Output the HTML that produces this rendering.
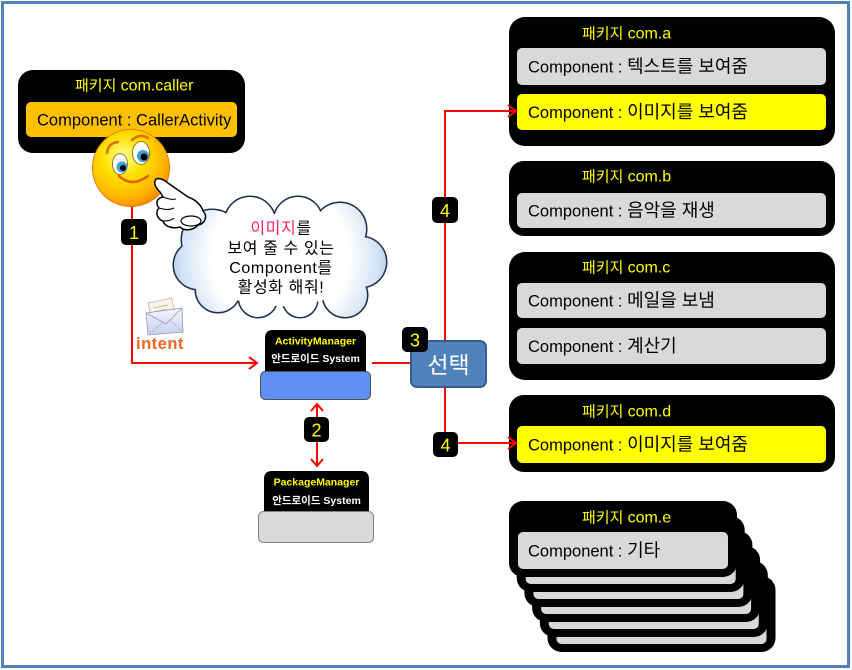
<!DOCTYPE html>
<html><head><meta charset="utf-8"><style>
html,body{margin:0;padding:0;background:#fff;}
svg{display:block;}
text{font-family:"Liberation Sans","Noto Sans CJK KR",sans-serif;}
</style></head><body>
<svg width="852" height="670" viewBox="0 0 852 670" xmlns="http://www.w3.org/2000/svg">
<defs>
<radialGradient id="sm" cx="0.4" cy="0.35" r="0.7">
<stop offset="0" stop-color="#FFFF90"/><stop offset="0.4" stop-color="#FFE000"/><stop offset="0.8" stop-color="#FFB000"/><stop offset="1" stop-color="#F08000"/>
</radialGradient>
<radialGradient id="cl" gradientUnits="userSpaceOnUse" cx="280" cy="257" r="115">
<stop offset="0" stop-color="#FFFFFF"/><stop offset="0.6" stop-color="#FFFFFF"/><stop offset="0.85" stop-color="#D5E3F5"/><stop offset="1" stop-color="#A9C2E6"/>
</radialGradient>
<linearGradient id="env" x1="0" y1="0" x2="0" y2="1">
<stop offset="0" stop-color="#F4F6FC"/><stop offset="1" stop-color="#C8D0EE"/>
</linearGradient>
</defs>
<rect x="0" y="0" width="852" height="670" fill="#fff"/>
<rect x="2.5" y="2.5" width="846" height="664" fill="none" stroke="#4F81BD" stroke-width="3"/>

<!-- red connectors (lines) -->
<g stroke="#FF0000" stroke-width="2" fill="none">
<polyline points="132,206 132,363 256,363"/>
<line x1="372" y1="363" x2="411" y2="363"/>
<polyline points="516,111 445,111 445,443 516,443"/>
<line x1="317" y1="404" x2="317" y2="466"/>
</g>

<!-- caller package -->
<rect x="18" y="70" width="227" height="83" rx="15" fill="#000"/>
<text x="75" y="90.5" fill="#FFFF00" font-size="15">패키지 <tspan font-size="16">com.caller</tspan></text>
<rect x="26" y="102" width="211" height="35" rx="5" fill="#FFC000"/>
<text x="37" y="125.5" fill="#000" font-size="16.5">Component : CallerActivity</text>

<!-- com.a -->
<rect x="509" y="17" width="326" height="129" rx="16" fill="#000"/>
<text x="582" y="38.5" fill="#FFFF00" font-size="15">패키지 <tspan font-size="16">com.a</tspan></text>
<rect x="517" y="48" width="309" height="37" rx="5" fill="#D9D9D9"/>
<text x="528" y="72.5" fill="#000" font-size="16.5">Component : <tspan font-size="18">텍스트를 보여줌</tspan></text>
<rect x="517" y="94" width="309" height="36" rx="5" fill="#FFFF00"/>
<text x="528" y="118" fill="#000" font-size="16.5">Component : <tspan font-size="18">이미지를 보여줌</tspan></text>

<!-- com.b -->
<rect x="509" y="161" width="326" height="75" rx="15" fill="#000"/>
<text x="582" y="181.5" fill="#FFFF00" font-size="15">패키지 <tspan font-size="16">com.b</tspan></text>
<rect x="517" y="193" width="309" height="35" rx="5" fill="#D9D9D9"/>
<text x="528" y="216.5" fill="#000" font-size="16.5">Component : <tspan font-size="18">음악을 재생</tspan></text>

<!-- com.c -->
<rect x="509" y="252" width="326" height="128" rx="16" fill="#000"/>
<text x="582" y="272.5" fill="#FFFF00" font-size="15">패키지 <tspan font-size="16">com.c</tspan></text>
<rect x="517" y="283" width="309" height="35" rx="5" fill="#D9D9D9"/>
<text x="528" y="306.5" fill="#000" font-size="16.5">Component : <tspan font-size="18">메일을 보냄</tspan></text>
<rect x="517" y="328" width="309" height="36" rx="5" fill="#D9D9D9"/>
<text x="528" y="352" fill="#000" font-size="16.5">Component : <tspan font-size="18">계산기</tspan></text>

<!-- com.d -->
<rect x="509" y="395" width="326" height="77" rx="15" fill="#000"/>
<text x="582" y="416.5" fill="#FFFF00" font-size="15">패키지 <tspan font-size="16">com.d</tspan></text>
<rect x="517" y="426" width="309" height="37" rx="5" fill="#FFFF00"/>
<text x="528" y="450.5" fill="#000" font-size="16.5">Component : <tspan font-size="18">이미지를 보여줌</tspan></text>

<!-- com.e stack -->
<g>
<rect x="547.5" y="576" width="228" height="76" rx="14" fill="#000"/><rect x="556.5" y="607" width="210" height="37" rx="5" fill="#D9D9D9"/>
<rect x="539.8" y="561" width="228" height="76" rx="14" fill="#000"/><rect x="548.8" y="592" width="210" height="37" rx="5" fill="#D9D9D9"/>
<rect x="532.1" y="546" width="228" height="76" rx="14" fill="#000"/><rect x="541.1" y="577" width="210" height="37" rx="5" fill="#D9D9D9"/>
<rect x="524.4" y="531" width="228" height="76" rx="14" fill="#000"/><rect x="533.4" y="562" width="210" height="37" rx="5" fill="#D9D9D9"/>
<rect x="516.7" y="516" width="228" height="76" rx="14" fill="#000"/><rect x="525.7" y="547" width="210" height="37" rx="5" fill="#D9D9D9"/>
<rect x="509" y="501" width="228" height="76" rx="14" fill="#000"/><rect x="518" y="532" width="210" height="37" rx="5" fill="#D9D9D9"/>
</g>
<text x="582" y="522.5" fill="#FFFF00" font-size="15">패키지 <tspan font-size="16">com.e</tspan></text>
<text x="528" y="556.5" fill="#000" font-size="16.5">Component : <tspan font-size="18">기타</tspan></text>

<!-- ActivityManager -->
<path d="M265,372 L265,338 Q265,330 273,330 L358,330 Q366,330 366,338 L366,372 Z" fill="#000"/>
<rect x="260.5" y="371.5" width="110" height="28" rx="5" fill="#5F8FF0" stroke="#505050" stroke-width="1"/>
<text x="315.5" y="344.5" fill="#FFFF00" font-size="10.5" font-weight="bold" text-anchor="middle">ActivityManager</text>
<text x="315.5" y="362" fill="#FFFFFF" font-size="10.5" font-weight="bold" text-anchor="middle">안드로이드 System</text>

<!-- PackageManager -->
<path d="M264,512 L264,479 Q264,471 272,471 L361,471 Q369,471 369,479 L369,512 Z" fill="#000"/>
<rect x="258.5" y="511.5" width="115" height="31" rx="5" fill="#D9D9D9" stroke="#808080" stroke-width="1"/>
<text x="316.5" y="485.5" fill="#FFFF00" font-size="10.5" font-weight="bold" text-anchor="middle">PackageManager</text>
<text x="316.5" y="504" fill="#FFFFFF" font-size="10.5" font-weight="bold" text-anchor="middle">안드로이드 System</text>

<!-- arrowheads on top -->
<g stroke="#FF0000" stroke-width="2" fill="none">
<polyline points="249,357 257,363 249,369"/>
<line x1="505" y1="111" x2="516" y2="111"/>
<polyline points="508,105 516,111 508,117"/>
<line x1="505" y1="443" x2="516" y2="443"/>
<polyline points="508,437 516,443 508,449"/>
<polyline points="311,411 317,404 323,411"/>
<polyline points="311,459 317,466 323,459"/>
</g>

<!-- 선택 -->
<rect x="411" y="341" width="75" height="46" rx="6" fill="#4F81BD" stroke="#385D8A" stroke-width="2"/>
<text x="448.5" y="373" fill="#FFFFFF" font-size="23" text-anchor="middle">선택</text>

<!-- number labels -->
<g font-size="18" fill="#FFFF00" text-anchor="middle">
<rect x="121" y="219" width="26" height="26" rx="5" fill="#000"/><text x="134" y="239">1</text>
<rect x="304" y="417" width="25" height="25" rx="5" fill="#000"/><text x="316.5" y="436.5">2</text>
<rect x="402" y="327" width="26" height="25" rx="5" fill="#000"/><text x="415" y="346.5">3</text>
<rect x="432" y="197" width="26" height="26" rx="5" fill="#000"/><text x="445" y="217">4</text>
<rect x="433" y="432" width="25" height="25" rx="5" fill="#000"/><text x="445.5" y="451.5">4</text>
</g>

<!-- cloud -->
<g stroke="#1F3050" stroke-width="3" fill="url(#cl)">
<circle cx="212" cy="240" r="30"/><circle cx="250" cy="222" r="25"/><circle cx="298" cy="221" r="24"/>
<circle cx="340" cy="229" r="26"/><circle cx="361" cy="262" r="25"/><circle cx="345" cy="295" r="22"/>
<circle cx="300" cy="300" r="17"/><circle cx="258" cy="298" r="19"/><circle cx="218" cy="290" r="22"/>
<circle cx="198" cy="265" r="24"/>
</g>
<g fill="url(#cl)">
<circle cx="212" cy="240" r="30"/><circle cx="250" cy="222" r="25"/><circle cx="298" cy="221" r="24"/>
<circle cx="340" cy="229" r="26"/><circle cx="361" cy="262" r="25"/><circle cx="345" cy="295" r="22"/>
<circle cx="300" cy="300" r="17"/><circle cx="258" cy="298" r="19"/><circle cx="218" cy="290" r="22"/>
<circle cx="198" cy="265" r="24"/>
<ellipse cx="280" cy="260" rx="88" ry="46"/>
</g>
<g font-size="16" fill="#000" text-anchor="middle" letter-spacing="0.6">
<text x="281" y="233.5"><tspan fill="#FF2060">이미지</tspan>를</text>
<text x="281" y="253.5">보여 줄 수 있는</text>
<text x="281" y="273">Component를</text>
<text x="281" y="292.5">활성화 해줘!</text>
</g>

<!-- smiley -->
<circle cx="131" cy="168" r="38.5" fill="url(#sm)" stroke="#E87800" stroke-width="1"/>
<path d="M107,153 Q108,143 118,142" stroke="#E07000" stroke-width="2.5" fill="none" stroke-linecap="round"/>
<path d="M132,140 Q140,133 148,138" stroke="#E07000" stroke-width="2.5" fill="none" stroke-linecap="round"/>
<ellipse cx="120" cy="164" rx="7.5" ry="10.5" fill="#fff" stroke="#8a5a00" stroke-width="0.8"/>
<circle cx="122" cy="167" r="5.5" fill="#3FA0D8"/><circle cx="123" cy="168" r="3" fill="#000"/>
<ellipse cx="141" cy="153" rx="8.5" ry="11.5" fill="#fff" stroke="#8a5a00" stroke-width="0.8"/>
<circle cx="143" cy="156" r="6" fill="#3FA0D8"/><circle cx="144" cy="157" r="3.5" fill="#000"/>
<path d="M119,176 Q132,188 148,176" stroke="#E06000" stroke-width="2.5" fill="none" stroke-linecap="round"/>

<!-- hand -->
<path d="M155,181 C156,177 162,178 168,183 L188,197 C194,199 201,204 203,211 C208,216 205,224 198,225 C193,231 184,231 180,227 C173,229 165,227 163,221 C157,219 155,212 159,208 C155,203 157,198 163,197 L160,192 C156,188 154,184 155,181 Z" fill="#fff" stroke="#000" stroke-width="1.5"/>
<path d="M163,197 C168,199 172,200 176,199 M159,208 C165,210 170,210 174,208 M163,221 C168,221 172,220 174,218" stroke="#000" stroke-width="1" fill="none"/>
<ellipse cx="191" cy="221" rx="10" ry="5" fill="#fff" stroke="#000" stroke-width="1.2"/>

<!-- envelope -->
<g transform="rotate(-12 164 315)">
<rect x="151" y="300" width="24" height="20" fill="#FAF5E8" stroke="#B8B0A0" stroke-width="0.8"/>
<line x1="155" y1="306" x2="170" y2="306" stroke="#C8B8A0" stroke-width="1"/>
<line x1="155" y1="310" x2="168" y2="310" stroke="#C8B8A0" stroke-width="1"/>
</g>
<path d="M146,313 L182,308 L183,332 L148,335 Z" fill="url(#env)" stroke="#9098C0" stroke-width="0.8"/>
<path d="M146,313 L166,324 L182,308" fill="none" stroke="#9098C0" stroke-width="0.8"/>
<path d="M148,335 L164,322 M183,332 L170,320" fill="none" stroke="#B0B8D8" stroke-width="0.8"/>

<text x="136" y="349" fill="#F26522" font-size="16.5" font-weight="bold" letter-spacing="0.5">intent</text>
</svg>
</body></html>
